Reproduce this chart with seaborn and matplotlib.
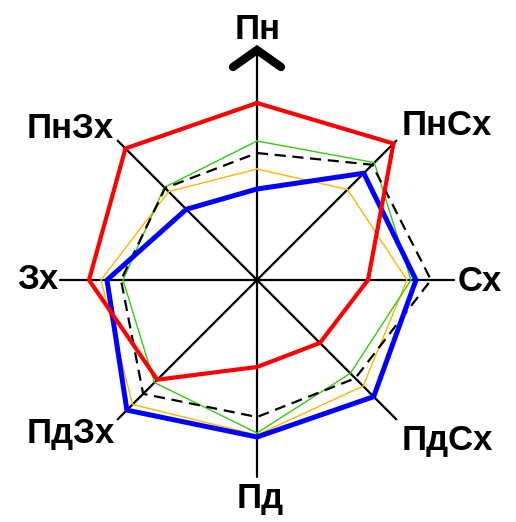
import numpy as np
import pandas as pd
import matplotlib
matplotlib.use("Agg")
import matplotlib.pyplot as plt
import seaborn as sns

directions = ["Пн", "ПнСх", "Сх", "ПдСх", "Пд", "ПдЗх", "Зх", "ПнЗх"]
red_vals = [17.7, 19.3, 11.1, 8.9, 8.7, 14.1, 16.8, 18.6]
blue_vals = [9.1, 15.1, 15.9, 16.5, 15.7, 18.4, 15.0, 10.0]
green_vals = [13.9, 16.6, 15.4, 13.2, 15.3, 14.5, 13.4, 13.1]
dash_vals = [12.7, 16.3, 17.4, 13.9, 13.7, 16.1, 13.6, 13.0]
orange_vals = [11.1, 12.8, 15.0, 15.0, 15.5, 17.6, 15.6, 12.5]

sns.set_theme(style="white")
plt.rcParams["font.family"] = ["Liberation Sans", "DejaVu Sans"]

W, H = 516, 522
fig = plt.figure(figsize=(W / 100, H / 100), dpi=100)
cx, cy, rad = 257, 280, 240
ax = fig.add_axes([(cx - rad) / W, (H - cy - rad) / H, 2 * rad / W, 2 * rad / H],
                  projection="polar")
ax.set_theta_zero_location("N")
ax.set_theta_direction(-1)

angles = np.deg2rad(np.arange(8) * 45.0)
spoke = 19.7
for i, a in enumerate(angles):
    r_end = 23.0 if i == 0 else spoke
    ax.plot([a, a], [0, r_end], color="black", lw=1.6, zorder=1)

# north arrow chevron
def to_polar(dx, dy):
    return np.arctan2(dx, dy), np.hypot(dx, dy) / 10.0
pts = [to_polar(-24, 213), to_polar(0, 230), to_polar(24, 213)]
ax.plot([p[0] for p in pts], [p[1] for p in pts], color="black", lw=6,
        solid_capstyle="round", solid_joinstyle="miter", zorder=3)

series = [
    ("orange", orange_vals, "#ffb400", 1.0, "-"),
    ("green", green_vals, "#33cc11", 1.0, "-"),
    ("dash", dash_vals, "black", 1.6, (0, (5, 3))),
    ("blue", blue_vals, "#0000ff", 3.6, "-"),
    ("red", red_vals, "#ff0000", 3.0, "-"),
]
for name, vals, col, lw, ls in series:
    df = pd.DataFrame({"theta": list(angles) + [angles[0] + 2 * np.pi],
                       "r": list(vals) + [vals[0]]})
    sns.lineplot(data=df, x="theta", y="r", sort=False, color=col, lw=lw,
                 linestyle=ls, ax=ax, zorder=2, estimator=None)
ax.set_ylim(0, 24)
ax.axis("off")

label_pos = [(258, 39), (447, 135), (480, 291), (447, 450),
             (260, 508), (71, 443), (37.5, 289), (70, 138)]
for lab, (x, y) in zip(directions, label_pos):
    fig.text(x / W, 1 - y / H, lab, ha="center", va="baseline",
             fontsize=25, fontweight="bold", color="black")

fig.savefig("out.png", dpi=100)
